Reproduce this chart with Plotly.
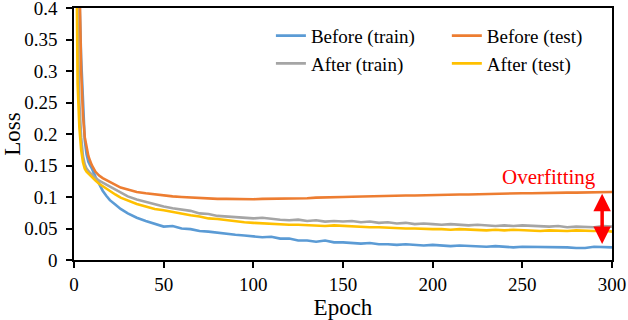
import plotly.graph_objects as go

epochs = [1, 2, 3, 4, 5, 6, 7, 8, 9, 10, 12, 14, 16, 18, 20, 23, 26, 30,
          35, 40, 45, 50, 55, 60, 65, 70, 75, 80, 85, 90, 95, 100, 105, 110, 115, 120,
          125, 130, 135, 140, 145, 150, 155, 160, 165, 170, 175, 180, 185, 190, 195, 200,
          205, 210, 215, 220, 225, 230, 235, 240, 245, 250, 255, 260, 265, 270, 275, 280,
          285, 290, 295, 300]

before_train = [0.9, 0.6, 0.42, 0.32, 0.24, 0.19, 0.168, 0.156, 0.15, 0.145, 0.132, 0.12, 0.11, 0.102, 0.095, 0.088, 0.081, 0.074,
                0.067, 0.062, 0.058, 0.053, 0.054, 0.050, 0.049, 0.046, 0.045, 0.043, 0.042, 0.040, 0.039, 0.038, 0.036, 0.037, 0.034, 0.034,
                0.031, 0.031, 0.029, 0.031, 0.028, 0.028, 0.027, 0.026, 0.027, 0.025, 0.025, 0.024, 0.025, 0.024, 0.023, 0.024,
                0.023, 0.022, 0.023, 0.022, 0.022, 0.021, 0.022, 0.021, 0.020, 0.021, 0.021, 0.020, 0.021, 0.020, 0.020, 0.019,
                0.019, 0.021, 0.020, 0.020]

after_train = [0.7, 0.38, 0.25, 0.195, 0.165, 0.152, 0.145, 0.141, 0.138, 0.136, 0.13, 0.126, 0.123, 0.12, 0.117, 0.112, 0.107, 0.101,
               0.096, 0.092, 0.088, 0.085, 0.082, 0.080, 0.078, 0.074, 0.073, 0.070, 0.069, 0.068, 0.067, 0.066, 0.067, 0.065, 0.064, 0.063,
               0.064, 0.062, 0.063, 0.061, 0.062, 0.061, 0.062, 0.060, 0.061, 0.059, 0.060, 0.058, 0.059, 0.057, 0.058, 0.057,
               0.056, 0.057, 0.056, 0.055, 0.056, 0.055, 0.054, 0.055, 0.054, 0.055, 0.054, 0.054, 0.053, 0.054, 0.052, 0.053,
               0.053, 0.052, 0.054, 0.053]

after_test = [0.6, 0.28, 0.21, 0.175, 0.155, 0.145, 0.14, 0.137, 0.134, 0.132, 0.126, 0.121, 0.117, 0.113, 0.11, 0.104, 0.099, 0.094,
              0.089, 0.085, 0.081, 0.079, 0.076, 0.073, 0.071, 0.069, 0.066, 0.065, 0.063, 0.062, 0.060, 0.059, 0.058, 0.058, 0.057, 0.056,
              0.056, 0.055, 0.055, 0.054, 0.055, 0.054, 0.053, 0.053, 0.052, 0.052, 0.051, 0.051, 0.050, 0.050, 0.049, 0.049,
              0.049, 0.048, 0.049, 0.048, 0.048, 0.047, 0.048, 0.047, 0.048, 0.047, 0.047, 0.046, 0.047, 0.046, 0.046, 0.047,
              0.046, 0.046, 0.047, 0.045]

before_test = [1.0, 0.7, 0.45, 0.3, 0.23, 0.195, 0.177, 0.165, 0.157, 0.15, 0.14, 0.134, 0.13, 0.127, 0.124, 0.119, 0.115, 0.112,
               0.108, 0.106, 0.104, 0.103, 0.101, 0.100, 0.099, 0.098, 0.098, 0.097, 0.097, 0.0965, 0.0965, 0.0965, 0.097, 0.097, 0.0975, 0.0975,
               0.098, 0.098, 0.099, 0.099, 0.0995, 0.100, 0.1005, 0.101, 0.101, 0.1015, 0.102, 0.102, 0.1025, 0.1025, 0.103, 0.103,
               0.1035, 0.1035, 0.104, 0.104, 0.1045, 0.105, 0.105, 0.1055, 0.1055, 0.106, 0.106, 0.1065, 0.1065, 0.107, 0.107, 0.107,
               0.1075, 0.1075, 0.1075, 0.108]

x_ticks = [0, 50, 100, 150, 200, 250, 300]
y_ticks = [0, 0.05, 0.1, 0.15, 0.2, 0.25, 0.3, 0.35, 0.4]
y_tick_labels = ["0", "0.05", "0.1", "0.15", "0.2", "0.25", "0.3", "0.35", "0.4"]

FONT = "Liberation Serif"

fig = go.Figure()
fig.add_trace(go.Scatter(x=epochs, y=before_train, mode="lines", name="Before (train)",
                         line=dict(color="#5B9BD5", width=2.6), legend="legend", legendrank=1))
fig.add_trace(go.Scatter(x=epochs, y=after_train, mode="lines", name="After (train)",
                         line=dict(color="#A5A5A5", width=2.6), legend="legend", legendrank=2))
fig.add_trace(go.Scatter(x=epochs, y=after_test, mode="lines", name="After (test)",
                         line=dict(color="#FFC000", width=2.6), legend="legend2", legendrank=2))
fig.add_trace(go.Scatter(x=epochs, y=before_test, mode="lines", name="Before (test)",
                         line=dict(color="#ED7D31", width=2.6), legend="legend2", legendrank=1))

fig.add_annotation(x=265, y=0.132, text="Overfitting", showarrow=False,
                   font=dict(family=FONT, size=21, color="#FF0000"))
fig.add_annotation(x=294.5, y=0.105, ax=294.5, ay=0.023, axref="x", ayref="y",
                   text="", showarrow=True, arrowside="end+start", arrowhead=2,
                   arrowsize=1, arrowwidth=3.5, arrowcolor="#FF0000")

legend_common = dict(font=dict(family=FONT, size=19, color="#000"), bgcolor="rgba(0,0,0,0)",
                     orientation="v", xanchor="left", yanchor="top", tracegroupgap=0)
fig.update_layout(
    width=628, height=320,
    margin=dict(l=74, r=16, t=8, b=60),
    paper_bgcolor="white", plot_bgcolor="white",
    font=dict(family=FONT, size=19, color="#000"),
    legend=dict(x=0.366, y=0.965, **legend_common),
    legend2=dict(x=0.693, y=0.965, **legend_common),
    xaxis=dict(range=[0, 300], tickvals=x_ticks, ticks="outside", ticklen=6, tickwidth=1.5,
               tickcolor="#000", showline=True, linecolor="#000", linewidth=1.5, mirror=True,
               showgrid=False, zeroline=False, automargin=False, title=dict(text="Epoch"),
               tickfont=dict(size=19), ticklabeloverflow="allow"),
    yaxis=dict(range=[0, 0.4], tickvals=y_ticks, ticktext=y_tick_labels, ticks="outside", ticklen=6,
               tickwidth=1.5, tickcolor="#000", showline=True, linecolor="#000", linewidth=1.5,
               mirror=True, showgrid=False, zeroline=False, automargin=False, title=dict(text="Loss"),
               tickfont=dict(size=19), ticklabelstandoff=5, ticklabeloverflow="allow"),
)

fig.write_html("out.html", config={"displayModeBar": False},
               post_script="document.body.style.margin='0';document.body.style.padding='0';")
